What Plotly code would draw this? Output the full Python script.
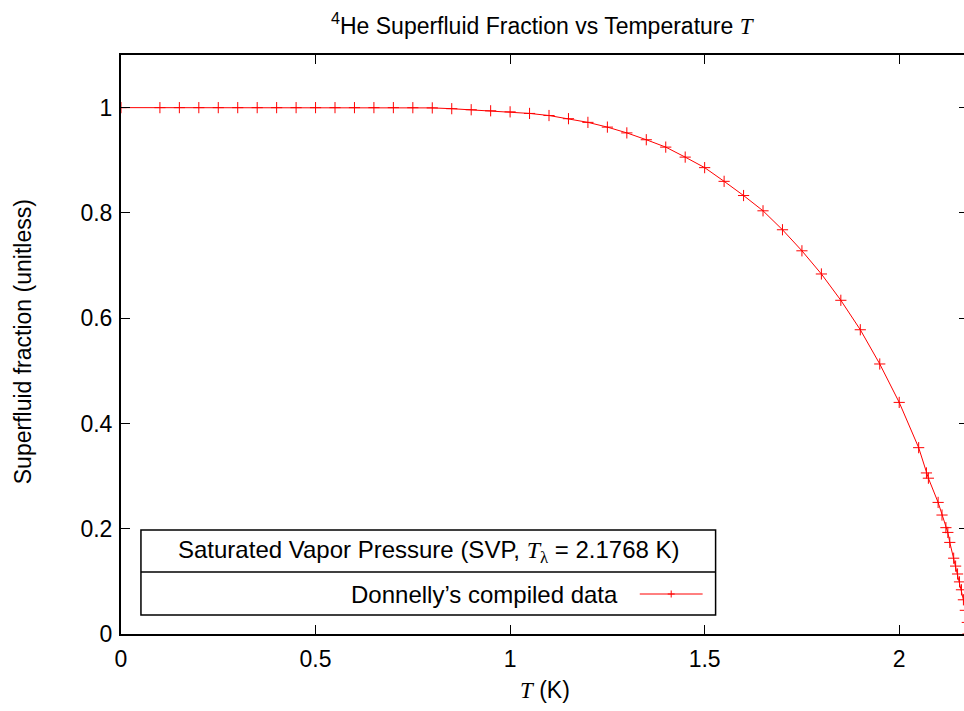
import plotly.graph_objects as go

# ---- data ----
temperature_K = [0.0, 0.1, 0.15, 0.2, 0.25, 0.3, 0.35, 0.4, 0.45, 0.5, 0.55, 0.6,
                 0.65, 0.7, 0.75, 0.8, 0.85, 0.9, 0.95, 1.0, 1.05, 1.1, 1.15, 1.2,
                 1.25, 1.3, 1.35, 1.4, 1.45, 1.5, 1.55, 1.6, 1.65, 1.7, 1.75, 1.8,
                 1.85, 1.9, 1.95, 2.0, 2.05, 2.07, 2.075, 2.1, 2.11, 2.12, 2.125,
                 2.13, 2.14, 2.145, 2.15, 2.155, 2.16, 2.165, 2.17, 2.175, 2.1768]
superfluid_fraction = [1.0, 1.0, 1.0, 1.0, 1.0, 1.0, 1.0, 1.0, 1.0, 1.0, 1.0, 1.0,
                       1.0, 1.0, 0.9999, 0.9995, 0.998, 0.996, 0.994, 0.992, 0.989,
                       0.985, 0.979, 0.972, 0.963, 0.952, 0.939, 0.925, 0.906, 0.886,
                       0.860, 0.833, 0.804, 0.768, 0.728, 0.684, 0.634, 0.578, 0.513,
                       0.440, 0.354, 0.306, 0.296, 0.250, 0.226, 0.202, 0.193, 0.174,
                       0.144, 0.129, 0.114, 0.099, 0.084, 0.065, 0.045, 0.022, 0.0]

x_ticks = [0, 0.5, 1, 1.5, 2]
y_ticks = [0, 0.2, 0.4, 0.6, 0.8, 1]
x_range = [0, 2.1768]
y_range = [0, 1.1]

title_text = ('<sup>4</sup>He Superfluid Fraction vs Temperature '
              '<span style="font-family:Liberation Serif"><i>T</i></span>')
x_title = '<span style="font-family:Liberation Serif"><i>T</i></span> (K)'
y_title = "Superfluid fraction (unitless)"
legend_title = ('Saturated Vapor Pressure (SVP, '
                '<span style="font-family:Liberation Serif"><i>T</i><sub>λ</sub></span> = 2.1768 K)')
series_name = "Donnelly’s compiled data"

# ---- layout constants (pixels) ----
W, H = 972, 711
L, R, T, B = 121, 2, 55, 77
PW, PH = W - L - R, H - T - B

def px(x):
    return (x - L) / PW

def py(y):
    return (H - B - y) / PH

RED = "#ff0000"
FONT = "Liberation Sans, Arial, sans-serif"

fig = go.Figure()
fig.add_trace(go.Scatter(
    x=temperature_K, y=superfluid_fraction, mode="lines+markers", name=series_name,
    line=dict(color=RED, width=1),
    marker=dict(symbol="cross-thin", size=8, line=dict(color=RED, width=1)),
    showlegend=False, cliponaxis=True,
))

axis_common = dict(showline=True, linecolor="black", linewidth=2, mirror="ticks",
                   ticks="inside", ticklen=9, tickwidth=1.3, tickcolor="black",
                   showgrid=False, zeroline=False,
                   tickfont=dict(family=FONT, size=23, color="black"))

fig.update_layout(
    width=W, height=H, margin=dict(l=L, r=R, t=T, b=B, pad=0),
    paper_bgcolor="white", plot_bgcolor="white",
    font=dict(family=FONT, color="black"),
    xaxis=dict(range=x_range, tickvals=x_ticks, ticklabelstandoff=3, **axis_common),
    yaxis=dict(range=y_range, tickvals=y_ticks, ticklabelstandoff=2, **axis_common),
)

annotations = [
    dict(text=title_text, xref="paper", yref="paper", x=px(544), y=py(24),
         xanchor="center", yanchor="middle", showarrow=False,
         font=dict(family=FONT, size=23, color="black")),
    dict(text=x_title, xref="paper", yref="paper", x=px(546), y=py(690),
         xanchor="center", yanchor="middle", showarrow=False,
         font=dict(family=FONT, size=23, color="black")),
    dict(text=y_title, xref="paper", yref="paper", x=px(23), y=py(342), textangle=-90,
         xanchor="center", yanchor="middle", showarrow=False,
         font=dict(family=FONT, size=23, color="black")),
    dict(text=legend_title, xref="paper", yref="paper", x=px(430), y=py(551),
         xanchor="center", yanchor="middle", showarrow=False,
         font=dict(family=FONT, size=24, color="black")),
    dict(text=series_name, xref="paper", yref="paper", x=px(621), y=py(594),
         xanchor="right", yanchor="middle", showarrow=False,
         font=dict(family=FONT, size=24, color="black")),
]

shapes = [
    dict(type="rect", xref="paper", yref="paper", x0=px(141), x1=px(717), y0=py(615), y1=py(530),
         line=dict(color="black", width=1.5), fillcolor="rgba(0,0,0,0)", layer="above"),
    dict(type="line", xref="paper", yref="paper", x0=px(141), x1=px(717), y0=py(572), y1=py(572),
         line=dict(color="black", width=1.5)),
    dict(type="line", xref="paper", yref="paper", x0=px(641), x1=px(704), y0=py(594), y1=py(594),
         line=dict(color=RED, width=1)),
    dict(type="line", xref="paper", yref="paper", x0=px(669), x1=px(676), y0=py(594), y1=py(594),
         line=dict(color=RED, width=1)),
    dict(type="line", xref="paper", yref="paper", x0=px(672.5), x1=px(672.5), y0=py(590.5), y1=py(597.5),
         line=dict(color=RED, width=1)),
]

fig.update_layout(annotations=annotations, shapes=shapes)

fig.write_html("out.html",
               post_script="document.documentElement.style.overflow='hidden';"
                           "document.body.style.overflow='hidden';")
